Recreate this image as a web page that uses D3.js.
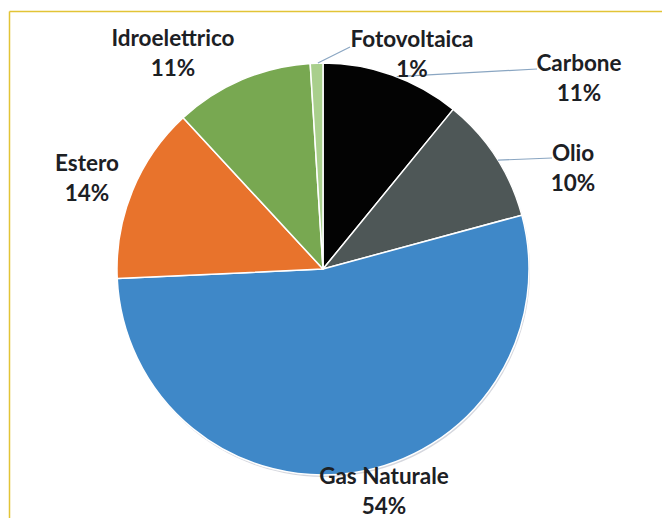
<!DOCTYPE html>
<html>
<head>
<meta charset="utf-8">
<script src="https://cdn.jsdelivr.net/npm/d3@7"></script>
<style>
  html, body { margin: 0; padding: 0; background: #fff; }
  svg { display: block; }
  text { font-family: Lato, "Open Sans", sans-serif; font-weight: 700; fill: #1c2024; }
</style>
</head>
<body>
<svg id="chart" width="662" height="518"></svg>
<script>
// Energy sources, clockwise from 12 o'clock
const sources = ["Carbone", "Olio", "Gas Naturale", "Estero", "Idroelettrico", "Fotovoltaica"];
const shares = [11, 10, 54, 14, 11, 1];
const sliceColors = ["#030303", "#4e5757", "#3f88c8", "#e8732c", "#78a851", "#a9cf8c"];

// label centre x and centre y of the first line
const labelPos = [
  [579, 62], [573, 152], [384, 475], [87, 162], [173, 37], [412, 38]
];
const lineGap = 30;

const svg = d3.select("#chart");
const W = 662, H = 518;
const cx = 323, cy = 269, r = 206;

// frame lines (top and left)
svg.append("line").attr("x1", 9.5).attr("y1", 11.5).attr("x2", W).attr("y2", 11.5)
  .attr("stroke", "#e2c436").attr("stroke-width", 1.5);
svg.append("line").attr("x1", 9.5).attr("y1", 11.5).attr("x2", 9.5).attr("y2", H)
  .attr("stroke", "#e2c436").attr("stroke-width", 1.5);

const pie = d3.pie().sort(null).value(d => d);
const arcs = pie(shares);
const arc = d3.arc().innerRadius(0).outerRadius(r);

const g = svg.append("g").attr("transform", `translate(${cx},${cy})`);

// soft shadow under the pie
g.append("circle").attr("r", r).attr("cx", 1).attr("cy", 2)
  .attr("fill", "#b9bdc8").attr("opacity", 0.6);

g.selectAll("path.slice").data(arcs).join("path")
  .attr("class", "slice")
  .attr("d", arc)
  .attr("fill", (d, i) => sliceColors[i])
  .attr("stroke", "#fff")
  .attr("stroke-width", 1.5)
  .attr("stroke-linejoin", "round");

// leader lines from the slice edge to the label
const leaders = [
  { i: 0, to: [537, 69], frac: 0.535 },
  { i: 1, to: [552, 158], frac: 0.53 },
  { i: 5, to: [350, 47], frac: 0.6 }
];
leaders.forEach(l => {
  const a = arcs[l.i];
  const ang = a.startAngle + (a.endAngle - a.startAngle) * l.frac;
  const x0 = cx + Math.sin(ang) * r, y0 = cy - Math.cos(ang) * r;
  svg.append("path")
    .attr("d", d3.line()([[x0, y0], l.to]))
    .attr("fill", "none")
    .attr("stroke", "#8aa6c2")
    .attr("stroke-width", 1.2);
});

// labels
arcs.forEach((a, i) => {
  const [x, y] = labelPos[i];
  const t = svg.append("text")
    .attr("text-anchor", "middle")
    .attr("dominant-baseline", "central")
    .attr("font-size", 22.5);
  t.append("tspan").attr("x", x).attr("y", y).text(sources[i]);
  t.append("tspan").attr("x", x).attr("y", y + lineGap).text(shares[i] + "%");
});
</script>
</body>
</html>
